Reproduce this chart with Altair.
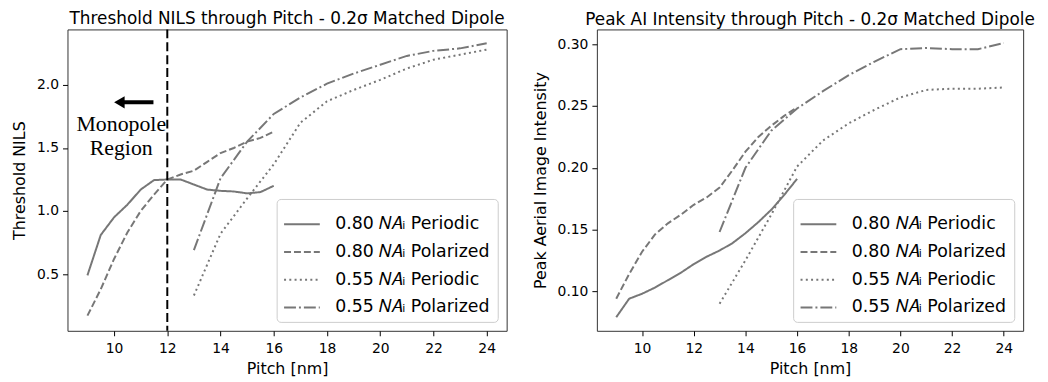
import altair as alt
import pandas as pd

# ---------------- data ----------------
pitch_080 = [9, 9.5, 10, 10.5, 11, 11.5, 12, 12.5, 13, 13.5, 14, 14.5, 15, 15.5, 16]
pitch_055 = [13, 14, 15, 16, 17, 18, 19, 20, 21, 22, 23, 24]

series_names = ["0.80 𝑁𝐴ᵢ Periodic", "0.80 𝑁𝐴ᵢ Polarized",
                "0.55 𝑁𝐴ᵢ Periodic", "0.55 𝑁𝐴ᵢ Polarized"]

nils_080_periodic = [0.49, 0.81, 0.95, 1.05, 1.17, 1.245, 1.25, 1.25, 1.21, 1.17, 1.16, 1.155, 1.14, 1.15, 1.20]
nils_080_polarized = [0.17, 0.38, 0.62, 0.83, 1.00, 1.13, 1.25, 1.29, 1.32, 1.39, 1.46, 1.50, 1.55, 1.58, 1.63]
nils_055_periodic = [0.33, 0.82, 1.10, 1.37, 1.70, 1.87, 1.96, 2.04, 2.13, 2.20, 2.24, 2.28]
nils_055_polarized = [0.69, 1.26, 1.55, 1.77, 1.90, 2.01, 2.09, 2.16, 2.23, 2.27, 2.29, 2.33]

ai_080_periodic = [0.079, 0.094, 0.098, 0.103, 0.109, 0.115, 0.122, 0.128, 0.133, 0.139, 0.147, 0.156, 0.166, 0.178, 0.191]
ai_080_polarized = [0.094, 0.114, 0.132, 0.146, 0.155, 0.162, 0.170, 0.176, 0.184, 0.198, 0.213, 0.225, 0.234, 0.242, 0.249]
ai_055_periodic = [0.090, 0.125, 0.162, 0.201, 0.222, 0.236, 0.247, 0.257, 0.263, 0.264, 0.264, 0.265]
ai_055_polarized = [0.148, 0.200, 0.230, 0.248, 0.262, 0.275, 0.286, 0.296, 0.297, 0.296, 0.296, 0.301]

x_ticks = [10, 12, 14, 16, 18, 20, 22, 24]
nils_ticks = [0.5, 1.0, 1.5, 2.0]
ai_ticks = [0.10, 0.15, 0.20, 0.25, 0.30]

monopole_pitch = [12]
arrow_x = [10.2]
arrow_x2 = [11.48]
arrow_y = [1.862]
arrow_head_x = [10.2]
note_lines = ["Monopole", "Region"]
note_x = [10.27, 10.27]
note_y = [1.633, 1.445]

LINE_COLOR = "#777777"
DASHES = [[1, 0], [7, 3], [2, 3.3], [12, 3, 2, 3]]


def long_table(vals):
    rows = []
    xs = [pitch_080, pitch_080, pitch_055, pitch_055]
    for name, px, v in zip(series_names, xs, vals):
        for a, b in zip(px, v):
            rows.append({"pitch": a, "value": b, "series": name})
    return pd.DataFrame(rows)


def panel(vals, title, ytitle, ydomain, yticks, yfmt, width):
    df = long_table(vals)
    lines = alt.Chart(df).mark_line(color=LINE_COLOR, strokeWidth=2).encode(
        x=alt.X("pitch:Q", scale=alt.Scale(domain=[8.25, 24.75], nice=False, zero=False),
                axis=alt.Axis(values=x_ticks, title="Pitch [nm]", format="d")),
        y=alt.Y("value:Q", scale=alt.Scale(domain=ydomain, nice=False, zero=False),
                axis=alt.Axis(values=yticks, title=ytitle, format=yfmt)),
        strokeDash=alt.StrokeDash(
            "series:N",
            scale=alt.Scale(domain=series_names, range=DASHES),
            sort=series_names,
            legend=alt.Legend(
                title=None, orient="bottom-right", offset=9,
                symbolType="stroke", symbolSize=1300, symbolStrokeWidth=2,
                symbolStrokeColor=LINE_COLOR, labelFont="DejaVu Sans",
                labelFontSize=17.5, labelColor="black", fillColor="white",
                strokeColor="#cccccc", cornerRadius=4, padding=6,
                rowPadding=-1.5, labelOffset=14, labelLimit=400,
            ),
        ),
        detail="series:N",
    )
    return lines.properties(
        width=width, height=304,
        title=alt.Title(title, fontSize=17, font="DejaVu Sans", fontWeight="normal",
                        color="black", anchor="middle", offset=0),
    )


left = panel([nils_080_periodic, nils_080_polarized, nils_055_periodic, nils_055_polarized],
             "Threshold NILS through Pitch - 0.2σ Matched Dipole", "Threshold NILS",
             [0.05, 2.44], nils_ticks, ".1f", 443)

rule_df = pd.DataFrame({"pitch": monopole_pitch})
vline = alt.Chart(rule_df).mark_rule(color="black", strokeWidth=2, strokeDash=[9, 4]).encode(x="pitch:Q")

arrow_df = pd.DataFrame({"x": arrow_x, "x2": arrow_x2, "y": arrow_y, "hx": arrow_head_x})
shaft = alt.Chart(arrow_df).mark_rule(color="black", strokeWidth=4).encode(
    x="x:Q", x2="x2:Q", y="y:Q")
head = alt.Chart(arrow_df).mark_point(shape="triangle-left", filled=True, color="black",
                                       size=150, opacity=1).encode(x="hx:Q", y="y:Q")
note_df = pd.DataFrame({"t": note_lines, "x": note_x, "y": note_y})
note = alt.Chart(note_df).mark_text(font="Liberation Serif", fontSize=22, color="black",
                                     align="center", baseline="alphabetic").encode(
    x="x:Q", y="y:Q", text="t:N")

left_full = alt.layer(left, vline, shaft, head, note)

right = panel([ai_080_periodic, ai_080_polarized, ai_055_periodic, ai_055_polarized],
              "Peak AI Intensity through Pitch - 0.2σ Matched Dipole", "Peak Aerial Image Intensity",
              [0.068, 0.312], ai_ticks, ".2f", 430)

chart = alt.hconcat(left_full, right, spacing=24).resolve_scale(
    strokeDash="independent"
).resolve_legend(strokeDash="independent").properties(
    padding={"left": 3, "top": 0, "right": 4, "bottom": 2}
).configure_view(stroke="#333333", strokeWidth=1).configure_axis(
    labelFont="DejaVu Sans", labelFontSize=14, labelColor="black",
    titleFont="DejaVu Sans", titleFontSize=16, titleFontWeight="normal", titleColor="black",
    tickColor="black", tickSize=5, tickWidth=1, domain=False, grid=False,
    labelPadding=4,
).configure_axisX(titlePadding=5, labelPadding=6).configure_axisY(titlePadding=9)

chart.save("out.html", embed_options={"renderer": "svg", "actions": False})
